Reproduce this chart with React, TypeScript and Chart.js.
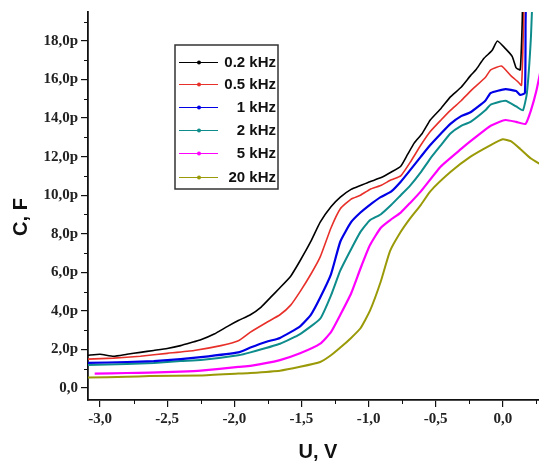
import React, { useEffect, useRef } from "react";
import { Chart, registerables } from "chart.js";

Chart.register(...registerables);

const seriesLabels = ["0.2 kHz", "0.5 kHz", "1 kHz", "2 kHz", "5 kHz", "20 kHz"];
const seriesColors = ["#000000", "#e8302a", "#0000e6", "#0e8c8c", "#ff00ff", "#9a9a08"];

const xTickValues = [-3, -2.5, -2, -1.5, -1, -0.5, 0];
const xMinorValues = [-2.75, -2.25, -1.75, -1.25, -0.75, -0.25, 0.25];
const yTickValues = [0, 2, 4, 6, 8, 10, 12, 14, 16, 18];
const yMinorValues = [1, 3, 5, 7, 9, 11, 13, 15, 17, 19];

// U, V (x) and C, pF (y)
const s02x = [-3.09, -3.0, -2.9, -2.8, -2.7, -2.6, -2.5, -2.4, -2.3, -2.25, -2.15, -2.05, -1.97, -1.88, -1.8, -1.73, -1.66, -1.58, -1.51, -1.43, -1.36, -1.28, -1.21, -1.13, -1.06, -0.99, -0.91, -0.83, -0.76, -0.71, -0.66, -0.6, -0.54, -0.46, -0.39, -0.31, -0.24, -0.2, -0.14, -0.08, -0.04, 0.02, 0.07, 0.1, 0.13, 0.145, 0.15];
const s02y = [1.7, 1.75, 1.65, 1.75, 1.85, 1.95, 2.05, 2.2, 2.4, 2.5, 2.8, 3.2, 3.5, 3.8, 4.2, 4.7, 5.2, 5.8, 6.6, 7.6, 8.6, 9.4, 9.9, 10.3, 10.5, 10.7, 10.9, 11.2, 11.5, 12.1, 12.7, 13.2, 13.9, 14.5, 15.1, 15.6, 16.2, 16.5, 17.1, 17.5, 18.0, 17.6, 17.2, 16.6, 16.5, 19, 21];

const s05x = [-3.09, -2.9, -2.7, -2.5, -2.3, -2.1, -1.97, -1.88, -1.76, -1.66, -1.58, -1.51, -1.43, -1.36, -1.28, -1.21, -1.13, -1.06, -0.99, -0.91, -0.83, -0.76, -0.69, -0.61, -0.54, -0.46, -0.39, -0.31, -0.24, -0.13, -0.09, -0.01, 0.06, 0.11, 0.14, 0.155, 0.16];
const s05y = [1.5, 1.55, 1.65, 1.8, 1.95, 2.2, 2.45, 2.9, 3.4, 3.8, 4.3, 5.0, 5.9, 6.8, 8.3, 9.3, 9.8, 10.0, 10.3, 10.5, 10.8, 11.0, 11.7, 12.6, 13.3, 13.9, 14.4, 14.9, 15.4, 16.1, 16.5, 16.7, 16.2, 15.9, 15.7, 19, 21];

const s1x = [-3.09, -2.8, -2.6, -2.4, -2.25, -1.97, -1.88, -1.76, -1.66, -1.51, -1.43, -1.36, -1.28, -1.21, -1.13, -1.06, -0.99, -0.91, -0.83, -0.76, -0.69, -0.61, -0.54, -0.46, -0.39, -0.31, -0.24, -0.13, -0.09, 0.02, 0.1, 0.13, 0.165, 0.17, 0.175];
const s1y = [1.3, 1.35, 1.4, 1.5, 1.6, 1.85, 2.1, 2.4, 2.6, 3.2, 3.8, 4.7, 5.9, 7.6, 8.6, 9.1, 9.5, 9.9, 10.2, 10.7, 11.3, 12.0, 12.6, 13.2, 13.7, 14.1, 14.3, 14.9, 15.3, 15.5, 15.4, 15.2, 15.3, 19, 21];

const s2x = [-3.09, -2.8, -2.6, -2.4, -2.25, -1.97, -1.88, -1.66, -1.51, -1.36, -1.28, -1.21, -1.13, -1.06, -0.99, -0.91, -0.83, -0.76, -0.69, -0.61, -0.54, -0.46, -0.39, -0.31, -0.24, -0.13, -0.09, 0.02, 0.1, 0.15, 0.18, 0.21, 0.225];
const s2y = [1.2, 1.25, 1.3, 1.4, 1.45, 1.7, 1.85, 2.3, 2.8, 3.6, 4.8, 6.1, 7.2, 8.1, 8.7, 9.0, 9.5, 10.0, 10.5, 11.2, 11.9, 12.6, 13.2, 13.6, 13.8, 14.4, 14.7, 14.9, 14.6, 14.4, 15.3, 18.2, 21];

const s5x = [-3.04, -2.8, -2.63, -2.4, -2.25, -1.97, -1.88, -1.66, -1.51, -1.36, -1.28, -1.21, -1.13, -1.06, -0.99, -0.91, -0.84, -0.76, -0.69, -0.61, -0.46, -0.31, -0.24, -0.13, -0.09, 0.02, 0.1, 0.17, 0.21, 0.25, 0.28];
const s5y = [0.75, 0.78, 0.8, 0.85, 0.9, 1.1, 1.15, 1.45, 1.8, 2.3, 2.9, 3.8, 4.9, 6.2, 7.4, 8.3, 8.7, 9.1, 9.6, 10.2, 11.5, 12.4, 12.8, 13.4, 13.6, 13.9, 13.8, 13.7, 14.4, 15.4, 16.4];

const s20x = [-3.09, -2.8, -2.63, -2.25, -1.97, -1.88, -1.66, -1.51, -1.36, -1.28, -1.21, -1.13, -1.06, -0.99, -0.91, -0.84, -0.76, -0.69, -0.61, -0.54, -0.39, -0.24, -0.09, 0.0, 0.06, 0.13, 0.21, 0.28];
const s20y = [0.55, 0.58, 0.62, 0.65, 0.75, 0.78, 0.9, 1.1, 1.35, 1.7, 2.1, 2.6, 3.1, 4.0, 5.5, 7.1, 8.1, 8.8, 9.5, 10.2, 11.2, 12.0, 12.6, 12.9, 12.8, 12.4, 11.9, 11.6];

const allX = [s02x, s05x, s1x, s2x, s5x, s20x];
const allY = [s02y, s05y, s1y, s2y, s5y, s20y];
const widths = [1.6, 1.6, 2.2, 2, 2.2, 2];

const fmt = (v: number) => v.toFixed(1).replace(".", ",");

const overlay = {
  id: "overlay",
  afterDraw(chart: any) {
    const ctx = chart.ctx;
    const xs = chart.scales.x;
    const ys = chart.scales.y;
    const area = chart.chartArea;
    ctx.save();
    ctx.strokeStyle = "#111";
    ctx.lineWidth = 1;
    xMinorValues.forEach((v) => {
      const px = Math.round(xs.getPixelForValue(v)) + 0.5;
      if (px > area.right) return;
      ctx.beginPath();
      ctx.moveTo(px, area.bottom);
      ctx.lineTo(px, area.bottom + 4);
      ctx.stroke();
    });
    yMinorValues.forEach((v) => {
      const py = Math.round(ys.getPixelForValue(v)) + 0.5;
      ctx.beginPath();
      ctx.moveTo(area.left - 4, py);
      ctx.lineTo(area.left, py);
      ctx.stroke();
    });

    // axis titles
    ctx.fillStyle = "#111";
    ctx.font = "bold 20px 'Liberation Sans', Arial, sans-serif";
    ctx.textAlign = "center";
    ctx.textBaseline = "middle";
    ctx.fillText("U, V", 318, 452);
    ctx.save();
    ctx.translate(21, 217);
    ctx.rotate(-Math.PI / 2);
    ctx.fillText("C, F", 0, 0);
    ctx.restore();

    // legend
    const bx = 175, by = 45, bw = 103, bh = 144;
    ctx.fillStyle = "#fff";
    ctx.fillRect(bx, by, bw, bh);
    ctx.strokeStyle = "#333";
    ctx.lineWidth = 1.5;
    ctx.strokeRect(bx, by, bw, bh);
    const rows = [62, 84, 107, 130, 153, 177];
    ctx.font = "bold 15px 'Liberation Sans', Arial, sans-serif";
    ctx.textAlign = "right";
    seriesLabels.forEach((lab, i) => {
      const y = rows[i];
      ctx.strokeStyle = seriesColors[i];
      ctx.lineWidth = 1.2;
      ctx.beginPath();
      ctx.moveTo(179, y + 0.5);
      ctx.lineTo(218, y + 0.5);
      ctx.stroke();
      ctx.fillStyle = seriesColors[i];
      ctx.beginPath();
      ctx.arc(199, y + 0.5, 2, 0, Math.PI * 2);
      ctx.fill();
      ctx.fillStyle = "#111";
      ctx.fillText(lab, 276, y + 1);
    });
    ctx.restore();
  },
};

export default function App() {
  const ref = useRef<HTMLCanvasElement | null>(null);
  useEffect(() => {
    if (!ref.current) return;
    const datasets = seriesLabels.map((label, i) => ({
      label,
      data: allX[i].map((x, j) => ({ x, y: allY[i][j] })),
      borderColor: seriesColors[i],
      backgroundColor: seriesColors[i],
      borderWidth: widths[i],
      pointRadius: 0,
      tension: 0.15,
      fill: false,
    }));
    const tickFont = { family: "'Liberation Serif', 'Times New Roman', serif", weight: "bold" as const, size: 15 };
    const chart = new Chart(ref.current, {
      type: "line",
      data: { datasets },
      options: {
        animation: false,
        responsive: false,
        devicePixelRatio: 1,
        layout: { padding: { top: 8, right: 0, left: 0, bottom: 0 } },
        plugins: { legend: { display: false }, tooltip: { enabled: false } },
        scales: {
          x: {
            type: "linear",
            min: -3.09,
            max: 0.27,
            afterBuildTicks: (s: any) => {
              s.ticks = xTickValues.map((value) => ({ value }));
            },
            afterFit: (s: any) => {
              s.height = 66;
            },
            ticks: { callback: (v: any) => fmt(Number(v)), font: tickFont, color: "#222", padding: 3, maxRotation: 0, autoSkip: false },
            grid: { drawOnChartArea: false, drawTicks: true, tickLength: 7, color: "#111", lineWidth: 1.2 },
            border: { display: true, color: "#111", width: 1.8 },
          },
          y: {
            type: "linear",
            min: -0.62,
            max: 19.5,
            afterBuildTicks: (s: any) => {
              s.ticks = yTickValues.map((value) => ({ value }));
            },
            afterFit: (s: any) => {
              s.width = 88;
            },
            ticks: {
              callback: (v: any) => (Number(v) === 0 ? "0,0" : fmt(Number(v)) + "p"),
              font: tickFont,
              color: "#222",
              padding: 3,
              autoSkip: false,
            },
            grid: { drawOnChartArea: false, drawTicks: true, tickLength: 7, color: "#111", lineWidth: 1.2 },
            border: { display: true, color: "#111", width: 1.8 },
          },
        },
      },
      plugins: [overlay],
    });
    return () => chart.destroy();
  }, []);
  return (
    <div style={{ position: "absolute", left: 0, top: 0, width: 539, height: 466, background: "#fff" }}>
      <canvas ref={ref} width={539} height={466} />
    </div>
  );
}
